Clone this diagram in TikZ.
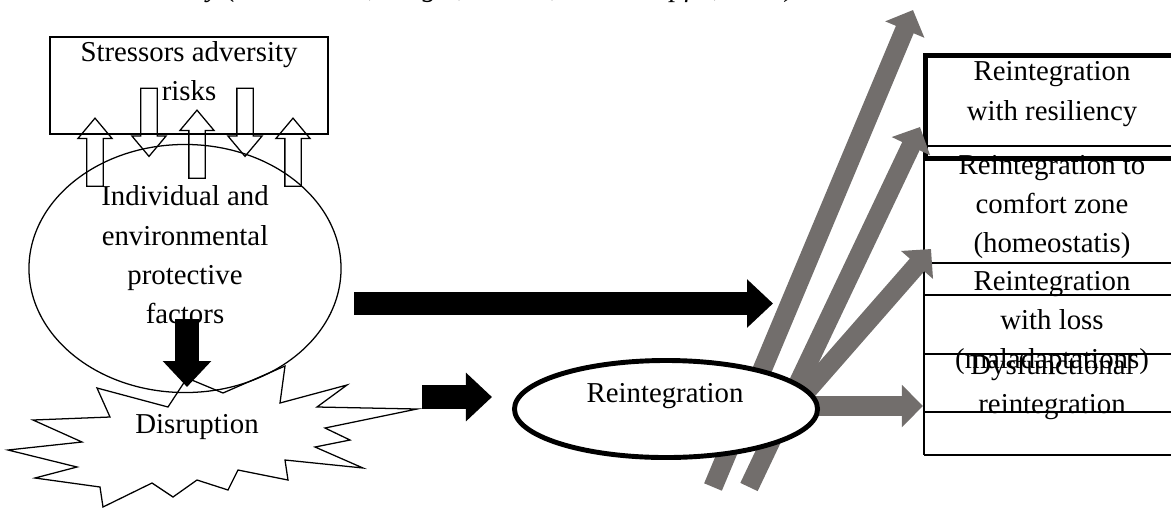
\documentclass[tikz,border=0pt]{standalone}
\usepackage{fontspec}
\setmainfont{Liberation Serif}
\usetikzlibrary{shapes.geometric,shapes.arrows,arrows.meta}
\definecolor{flowgray}{RGB}{114,110,108}

\begin{document}
\begin{tikzpicture}[x=0.025cm, y=-0.025cm,
    txt/.style={font=\fontsize{20.5pt}{28pt}\selectfont, align=center, inner sep=0pt},
    captxt/.style={font=\fontsize{20.5pt}{28pt}\selectfont\itshape, inner sep=0pt},
    thin/.style={line width=0.9pt},
    hollow/.style={single arrow, draw, thin, inner xsep=0pt, inner ysep=0.1875cm, single arrow head extend=0.225cm, single arrow tip angle=80, minimum height=1.7cm},
    blackarrow/.style={line width=0.59cm, -{Triangle[length=0.65cm, width=1.175cm]}},
    grayarrow/.style={flowgray, line width=0.48cm, -{Triangle[length=0.53cm, width=1.03cm]}}
]
    \useasboundingbox (0,0) rectangle (1171,509);

    % Source line (cut off at the top)
    \node[captxt, anchor=base west] (source) at (20,-4) {Model Resiliency (Richardson, Neiger, Jensen, and Kumpfer, 1990)};

    % Stressors
    \node[draw, thin, minimum width=6.95cm, minimum height=2.425cm] (stress) at (189,85.5) {};
    \node[txt] (stresstxt) at (189,71) {Stressors adversity\\risks};

    % Hollow arrows between stressors and protective factors
    \node[hollow, rotate=90] (up1) at (95,157) {};
    \node[hollow, rotate=90] (up2) at (197,149) {};
    \node[hollow, rotate=90] (up3) at (293,157) {};
    \node[hollow, rotate=-90] (down1) at (149,117.5) {};
    \node[hollow, rotate=-90] (down2) at (245,117.5) {};

    % Protective factors
    \node[ellipse, draw, thin, minimum width=7.8cm, minimum height=6.2cm] (prot) at (185,268.5) {};
    \node[txt] (prottxt) at (185,255) {Individual and\\environmental\\protective\\factors};

    % Disruption
    \draw[thin, line join=miter] (97,388) -- (168,407) -- (187,378) -- (223,393) -- (285,366) -- (280,403)
        -- (347,385) -- (317,407) -- (417,409) -- (325,428) -- (350,440) -- (315,447) -- (363,468)
        -- (285,460) -- (288,480) -- (238,470) -- (228,490) -- (197,480) -- (173,497) -- (152,483)
        -- (103,507) -- (100,487) -- (35,478) -- (77,467) -- (8,450) -- (82,442) -- (33,420)
        -- (110,417) -- cycle;
    \node[txt] (disr) at (197,427) {Disruption};

    \coordinate (protout) at (187,319);
    \coordinate (disrin) at (187,387);
    \draw[blackarrow] (protout) -- (disrin);

    % Outcome table
    \draw[thin] (924,146) -- (924,455);
    \foreach \y in {146,263,295,354,412,455}
        \draw[thin] (924,\y) -- (1190,\y);
    \node[txt] (resil) at (1052,94) {Reintegration\\with resiliency};
    \node[txt] (comfort) at (1052,207) {Reintegration to\\comfort zone\\(homeostatis)};
    \node[txt] (loss) at (1052,323) {Reintegration\\with loss\\(maladaptations)};
    \node[txt] (dysf) at (1052,387) {Dysfunctional\\reintegration};
    \draw[line width=3.5pt] (1190,55.5) -- (925.5,55.5) -- (925.5,158.5) -- (1190,158.5);

    % Gray outcome arrows
    \coordinate (g1s) at (713,487);
    \coordinate (g1e) at (913,10);
    \coordinate (g2s) at (749,487);
    \coordinate (g2e) at (920,127);
    \coordinate (g3s) at (790,410);
    \coordinate (g3e) at (931,249);
    \coordinate (g4s) at (800,406);
    \coordinate (g4e) at (923,406);
    \draw[grayarrow] (g1s) -- (g1e);
    \draw[grayarrow] (g2s) -- (g2e);
    \draw[grayarrow] (g3s) -- (g3e);
    \draw[grayarrow] (g4s) -- (g4e);

    % Reintegration
    \node[ellipse, draw, line width=3.5pt, fill=white, minimum width=7.575cm, minimum height=2.425cm] (reint) at (666,409) {};
    \node[txt] (reinttxt) at (665,396) {Reintegration};

    % Black arrows
    \coordinate (protright) at (354,303.5);
    \coordinate (outcome) at (773,303.5);
    \draw[blackarrow] (protright) -- (outcome);
    \coordinate (disrright) at (422,397);
    \coordinate (reintleft) at (492,397);
    \draw[blackarrow] (disrright) -- (reintleft);

\end{tikzpicture}
\end{document}
